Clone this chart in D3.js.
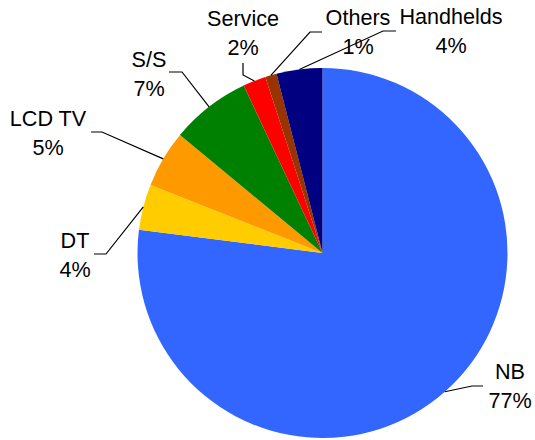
<!DOCTYPE html>
<html>
<head>
<meta charset="utf-8">
<script src="https://cdn.jsdelivr.net/npm/d3@7"></script>
<style>
  html, body { margin: 0; padding: 0; background: #fff; }
  svg { display: block; }
  text { font-family: "Liberation Sans", Arial, sans-serif; font-size: 21.6px; fill: #000; }
</style>
</head>
<body>
<svg id="chart" width="535" height="440"></svg>
<script>
// ---- data ----
const categories = ["NB", "DT", "LCD TV", "S/S", "Service", "Others", "Handhelds"];
const shares = [77, 4, 5, 7, 2, 1, 4];
const percentLabels = ["77%", "4%", "5%", "7%", "2%", "1%", "4%"];
const colors = ["#3366FF", "#FFCC00", "#FF9900", "#008000", "#FF0000", "#993300", "#000080"];

// ---- layout (label elbow + label anchor, in pixels) ----
const elbows = [[472, 386], [106, 254], [102, 132], [182, 72], [243, 75], [310, 32], [383, 31]];
const elbowEnds = [[483, 386], [94, 254], [91, 132], [169, 72], [243, 63], [322, 32], [396, 31]];
const labelPos = [[510, 379], [75, 248], [48, 126], [149, 67], [243, 26], [358, 25], [451, 24]];

const cx = 322.5, cy = 253, r = 185;
const svg = d3.select("#chart");
const g = svg.append("g").attr("transform", `translate(${cx},${cy})`);

const data = categories.map((c, i) => ({ name: c, value: shares[i], pct: percentLabels[i], color: colors[i], i }));

const pie = d3.pie().value(d => d.value).sort(null).startAngle(0).endAngle(2 * Math.PI);
const arcs = pie(data);
const arc = d3.arc().innerRadius(0).outerRadius(r);

g.selectAll("path.slice").data(arcs).enter().append("path")
  .attr("class", "slice")
  .attr("d", arc)
  .attr("fill", d => d.data.color);

// leader lines
arcs.forEach(a => {
  const mid = (a.startAngle + a.endAngle) / 2;
  const sx = cx + r * Math.sin(mid), sy = cy - r * Math.cos(mid);
  const e = elbows[a.data.i], f = elbowEnds[a.data.i];
  svg.append("polyline")
    .attr("points", `${sx},${sy} ${e[0]},${e[1]} ${f[0]},${f[1]}`)
    .attr("fill", "none").attr("stroke", "#000").attr("stroke-width", 1.2);
});

// labels
arcs.forEach(a => {
  const p = labelPos[a.data.i];
  const t = svg.append("text").attr("text-anchor", "middle").attr("x", p[0]).attr("y", p[1]);
  t.append("tspan").attr("x", p[0]).attr("y", p[1]).text(a.data.name);
  t.append("tspan").attr("x", p[0]).attr("y", p[1] + 28.5).text(a.data.pct);
});
</script>
</body>
</html>
